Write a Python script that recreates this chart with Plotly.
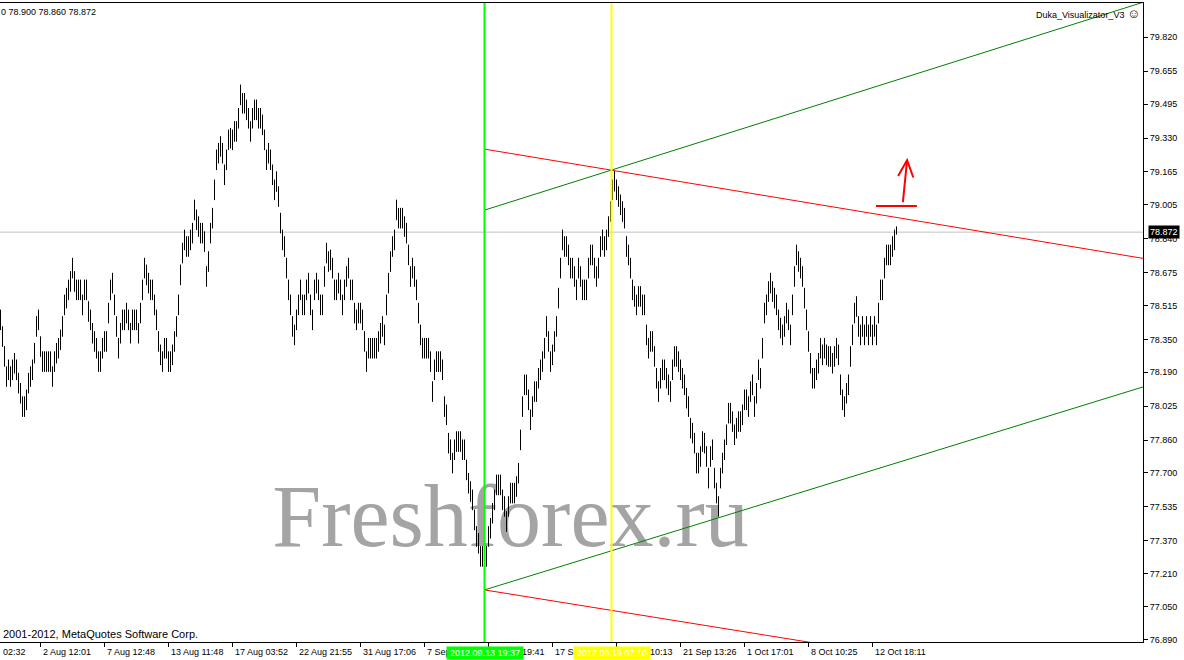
import plotly.graph_objects as go

FONT = "Liberation Sans"

# ---- range bars (10 pip): lows and highs per bar ----
bar_low = [
    78.395, 78.314, 78.217, 78.119, 78.152, 78.119, 78.152, 78.184, 78.152, 78.087,
    78.038, 77.973, 77.973, 78.006, 78.087, 78.119, 78.152, 78.233, 78.363, 78.395,
    78.265, 78.192, 78.192, 78.192, 78.192, 78.192, 78.119, 78.192, 78.233, 78.257,
    78.298, 78.363, 78.468, 78.501, 78.541, 78.582, 78.647, 78.582, 78.541, 78.541,
    78.541, 78.468, 78.541, 78.541, 78.436, 78.395, 78.330, 78.290, 78.257, 78.192,
    78.192, 78.257, 78.290, 78.290, 78.428, 78.541, 78.574, 78.468, 78.363, 78.257,
    78.330, 78.395, 78.395, 78.428, 78.395, 78.330, 78.395, 78.395, 78.395, 78.330,
    78.428, 78.541, 78.647, 78.614, 78.574, 78.541, 78.541, 78.468, 78.395, 78.290,
    78.225, 78.192, 78.257, 78.257, 78.192, 78.192, 78.225, 78.290, 78.363, 78.468,
    78.614, 78.720, 78.784, 78.752, 78.752, 78.784, 78.817, 78.930, 78.882, 78.849,
    78.817, 78.817, 78.776, 78.606, 78.679, 78.817, 78.890, 79.028, 79.174, 79.206,
    79.239, 79.206, 79.101, 79.174, 79.271, 79.279, 79.271, 79.312, 79.312, 79.376,
    79.490, 79.449, 79.449, 79.417, 79.376, 79.312, 79.376, 79.417, 79.417, 79.376,
    79.376, 79.344, 79.271, 79.174, 79.206, 79.174, 79.101, 79.028, 79.068, 78.995,
    78.866, 78.784, 78.752, 78.647, 78.541, 78.468, 78.363, 78.322, 78.395, 78.468,
    78.541, 78.468, 78.468, 78.541, 78.574, 78.468, 78.395, 78.541, 78.574, 78.541,
    78.468, 78.468, 78.606, 78.720, 78.679, 78.687, 78.647, 78.541, 78.541, 78.574,
    78.541, 78.468, 78.541, 78.606, 78.647, 78.541, 78.541, 78.428, 78.395, 78.428,
    78.428, 78.395, 78.290, 78.192, 78.257, 78.257, 78.257, 78.257, 78.257, 78.290,
    78.330, 78.363, 78.322, 78.468, 78.574, 78.679, 78.752, 78.784, 78.930, 78.890,
    78.890, 78.890, 78.849, 78.817, 78.711, 78.606, 78.647, 78.606, 78.541, 78.428,
    78.322, 78.257, 78.257, 78.257, 78.257, 78.192, 78.046, 78.152, 78.192, 78.192,
    78.192, 78.152, 77.973, 77.933, 77.795, 77.763, 77.698, 77.763, 77.803, 77.803,
    77.803, 77.763, 77.763, 77.665, 77.600, 77.560, 77.519, 77.422, 77.341, 77.308,
    77.244, 77.244, 77.171, 77.244, 77.341, 77.381, 77.454, 77.519, 77.592, 77.592,
    77.592, 77.519, 77.487, 77.414, 77.487, 77.552, 77.552, 77.552, 77.584, 77.649,
    77.811, 77.973, 78.079, 78.079, 78.006, 77.909, 77.973, 78.046, 78.046, 78.111,
    78.152, 78.192, 78.257, 78.363, 78.290, 78.192, 78.225, 78.290, 78.363, 78.501,
    78.647, 78.784, 78.752, 78.752, 78.711, 78.647, 78.647, 78.606, 78.541, 78.647,
    78.606, 78.541, 78.541, 78.541, 78.647, 78.711, 78.711, 78.647, 78.606, 78.647,
    78.752, 78.784, 78.752, 78.784, 78.849, 78.922, 79.028, 79.070, 79.028, 78.995,
    78.955, 78.922, 78.890, 78.752, 78.711, 78.647, 78.541, 78.509, 78.468, 78.509,
    78.509, 78.468, 78.468, 78.322, 78.257, 78.290, 78.290, 78.217, 78.111, 78.046,
    78.111, 78.152, 78.152, 78.111, 78.079, 78.046, 78.152, 78.217, 78.217, 78.192,
    78.152, 78.111, 78.079, 78.014, 77.973, 77.868, 77.844, 77.795, 77.698, 77.698,
    77.730, 77.803, 77.795, 77.730, 77.625, 77.730, 77.763, 77.625, 77.552, 77.487,
    77.625, 77.698, 77.763, 77.836, 77.941, 77.941, 77.900, 77.836, 77.868, 77.900,
    77.900, 77.933, 78.006, 78.006, 77.973, 78.046, 78.079, 77.973, 78.038, 78.152,
    78.111, 78.257, 78.428, 78.468, 78.533, 78.574, 78.533, 78.501, 78.468, 78.395,
    78.355, 78.322, 78.363, 78.428, 78.395, 78.322, 78.468, 78.606, 78.711, 78.679,
    78.647, 78.606, 78.501, 78.395, 78.290, 78.184, 78.111, 78.111, 78.152, 78.184,
    78.257, 78.225, 78.257, 78.225, 78.217, 78.217, 78.184, 78.217, 78.257, 78.225,
    78.079, 78.006, 77.973, 78.038, 78.079, 78.217, 78.322, 78.428, 78.460, 78.363,
    78.322, 78.363, 78.322, 78.363, 78.322, 78.363, 78.322, 78.363, 78.322, 78.428,
    78.541, 78.541, 78.647, 78.711, 78.711, 78.711, 78.752, 78.784, 78.860,
]
bar_high = [
    78.495, 78.414, 78.317, 78.219, 78.252, 78.219, 78.252, 78.284, 78.252, 78.187,
    78.138, 78.073, 78.073, 78.106, 78.187, 78.219, 78.252, 78.333, 78.463, 78.495,
    78.365, 78.292, 78.292, 78.292, 78.292, 78.292, 78.219, 78.292, 78.333, 78.357,
    78.398, 78.463, 78.568, 78.601, 78.641, 78.682, 78.747, 78.682, 78.641, 78.641,
    78.641, 78.568, 78.641, 78.641, 78.536, 78.495, 78.430, 78.390, 78.357, 78.292,
    78.292, 78.357, 78.390, 78.390, 78.528, 78.641, 78.674, 78.568, 78.463, 78.357,
    78.430, 78.495, 78.495, 78.528, 78.495, 78.430, 78.495, 78.495, 78.495, 78.430,
    78.528, 78.641, 78.747, 78.714, 78.674, 78.641, 78.641, 78.568, 78.495, 78.390,
    78.325, 78.292, 78.357, 78.357, 78.292, 78.292, 78.325, 78.390, 78.463, 78.568,
    78.714, 78.820, 78.884, 78.852, 78.852, 78.884, 78.917, 79.030, 78.982, 78.949,
    78.917, 78.917, 78.876, 78.706, 78.779, 78.917, 78.990, 79.128, 79.274, 79.306,
    79.339, 79.306, 79.201, 79.274, 79.371, 79.379, 79.371, 79.412, 79.412, 79.476,
    79.590, 79.549, 79.549, 79.517, 79.476, 79.412, 79.476, 79.517, 79.517, 79.476,
    79.476, 79.444, 79.371, 79.274, 79.306, 79.274, 79.201, 79.128, 79.168, 79.095,
    78.966, 78.884, 78.852, 78.747, 78.641, 78.568, 78.463, 78.422, 78.495, 78.568,
    78.641, 78.568, 78.568, 78.641, 78.674, 78.568, 78.495, 78.641, 78.674, 78.641,
    78.568, 78.568, 78.706, 78.820, 78.779, 78.787, 78.747, 78.641, 78.641, 78.674,
    78.641, 78.568, 78.641, 78.706, 78.747, 78.641, 78.641, 78.528, 78.495, 78.528,
    78.528, 78.495, 78.390, 78.292, 78.357, 78.357, 78.357, 78.357, 78.357, 78.390,
    78.430, 78.463, 78.422, 78.568, 78.674, 78.779, 78.852, 78.884, 79.030, 78.990,
    78.990, 78.990, 78.949, 78.917, 78.811, 78.706, 78.747, 78.706, 78.641, 78.528,
    78.422, 78.357, 78.357, 78.357, 78.357, 78.292, 78.146, 78.252, 78.292, 78.292,
    78.292, 78.252, 78.073, 78.033, 77.895, 77.863, 77.798, 77.863, 77.903, 77.903,
    77.903, 77.863, 77.863, 77.765, 77.700, 77.660, 77.619, 77.522, 77.441, 77.408,
    77.344, 77.344, 77.271, 77.344, 77.441, 77.481, 77.554, 77.619, 77.692, 77.692,
    77.692, 77.619, 77.587, 77.514, 77.587, 77.652, 77.652, 77.652, 77.684, 77.749,
    77.911, 78.073, 78.179, 78.179, 78.106, 78.009, 78.073, 78.146, 78.146, 78.211,
    78.252, 78.292, 78.357, 78.463, 78.390, 78.292, 78.325, 78.390, 78.463, 78.601,
    78.747, 78.884, 78.852, 78.852, 78.811, 78.747, 78.747, 78.706, 78.641, 78.747,
    78.706, 78.641, 78.641, 78.641, 78.747, 78.811, 78.811, 78.747, 78.706, 78.747,
    78.852, 78.884, 78.852, 78.884, 78.949, 79.022, 79.128, 79.170, 79.128, 79.095,
    79.055, 79.022, 78.990, 78.852, 78.811, 78.747, 78.641, 78.609, 78.568, 78.609,
    78.609, 78.568, 78.568, 78.422, 78.357, 78.390, 78.390, 78.317, 78.211, 78.146,
    78.211, 78.252, 78.252, 78.211, 78.179, 78.146, 78.252, 78.317, 78.317, 78.292,
    78.252, 78.211, 78.179, 78.114, 78.073, 77.968, 77.944, 77.895, 77.798, 77.798,
    77.830, 77.903, 77.895, 77.830, 77.725, 77.830, 77.863, 77.725, 77.652, 77.587,
    77.725, 77.798, 77.863, 77.936, 78.041, 78.041, 78.000, 77.936, 77.968, 78.000,
    78.000, 78.033, 78.106, 78.106, 78.073, 78.146, 78.179, 78.073, 78.138, 78.252,
    78.211, 78.357, 78.528, 78.568, 78.633, 78.674, 78.633, 78.601, 78.568, 78.495,
    78.455, 78.422, 78.463, 78.528, 78.495, 78.422, 78.568, 78.706, 78.811, 78.779,
    78.747, 78.706, 78.601, 78.495, 78.390, 78.284, 78.211, 78.211, 78.252, 78.284,
    78.357, 78.325, 78.357, 78.325, 78.317, 78.317, 78.284, 78.317, 78.357, 78.325,
    78.179, 78.106, 78.073, 78.138, 78.179, 78.317, 78.422, 78.528, 78.560, 78.463,
    78.422, 78.463, 78.422, 78.463, 78.422, 78.463, 78.422, 78.463, 78.422, 78.528,
    78.641, 78.641, 78.747, 78.811, 78.811, 78.811, 78.852, 78.884, 78.900,
]

# time axis (bar index of each labelled tick)
time_tick_bars = [20, 52, 84, 116, 148, 180, 212, 244, 276, 308, 340, 372, 404, 436]
time_tick_labels = ["2 Aug 12:01", "7 Aug 12:48", "13 Aug 11:48", "17 Aug 03:52",
                    "22 Aug 21:55", "31 Aug 17:06", "7 Sep 14:20", "13 Sep 19:41",
                    "17 Sep 03:40", "19 Sep 10:13", "21 Sep 13:26", "1 Oct 17:01",
                    "8 Oct 10:25", "12 Oct 18:11"]
first_partial_label = "02:32"

price_ticks = [79.820, 79.655, 79.495, 79.330, 79.165, 79.005, 78.840, 78.675, 78.515,
               78.350, 78.190, 78.025, 77.860, 77.700, 77.535, 77.370, 77.210, 77.050, 76.890]
price_range = [76.8775, 79.987]

last_bid = 78.872
ohlc_info = "0 78.900 78.860 78.872"
indicator_name = "Duka_Visualizator_V3 <span style='font-size:13px'>\u263a</span>"
copyright_text = "2001-2012, MetaQuotes Software Corp."
watermark = "Freshforex.ru"
watermark_pos = (255, 77.45)

# vertical time markers: (bar position, label, colour)
vlines = [(242, "2012.09.13 19:37", "#00ff00"), (305.5, "2012.09.19 07:10", "#ffff00")]

# trend channels: (start bar, start price, end bar, end price, colour)
channels = [
    (242, 79.276, 600, 78.698, "#ff0000"),
    (242, 77.131, 420, 76.852, "#ff0000"),
    (242, 78.979, 590, 80.048, "#008000"),
    (242, 77.131, 600, 78.205, "#008000"),
]

# hand-drawn red arrow (polyline strokes in bar/price units)
arrow_strokes = [
    [(437.7, 78.999), (458.2, 78.999)],
    [(451.2, 79.018), (453.3, 79.222)],
    [(448.8, 79.145), (453.3, 79.222), (456.4, 79.138)],
]

n_bars = len(bar_low)
assert n_bars == len(bar_high)

fig = go.Figure()

# watermark underneath the bars
fig.add_trace(go.Scatter(
    x=[watermark_pos[0]], y=[watermark_pos[1]], mode="text", text=[watermark],
    textposition="middle center",
    textfont=dict(family="Liberation Serif", size=88, color="#a4a4a4"),
    hoverinfo="skip", showlegend=False))

bx, by = [], []
for i in range(n_bars):
    bx += [i, i, None]
    by += [bar_low[i], bar_high[i], None]
fig.add_trace(go.Scatter(x=bx, y=by, mode="lines",
                         line=dict(color="black", width=1),
                         hoverinfo="skip", showlegend=False))

shapes = []
# bid line
shapes.append(dict(type="line", xref="paper", x0=0, x1=1, yref="y", y0=last_bid, y1=last_bid,
                   line=dict(color="#c0c0c0", width=1), layer="below"))
for x0, y0, x1, y1, col in channels:
    shapes.append(dict(type="line", xref="x", yref="y", x0=x0, y0=y0, x1=x1, y1=y1,
                       line=dict(color=col, width=1)))
for xv, _, col in vlines:
    shapes.append(dict(type="line", xref="x", yref="paper", x0=xv, x1=xv, y0=0, y1=1,
                       line=dict(color=col, width=2)))
for stroke in arrow_strokes:
    path = "M " + " L ".join(f"{px},{py}" for px, py in stroke)
    shapes.append(dict(type="path", xref="x", yref="y", path=path,
                       line=dict(color="#ff0000", width=2)))

small = dict(family=FONT, size=9, color="black")
ann = []
for xv, lab in zip(time_tick_bars, time_tick_labels):
    ann.append(dict(x=xv, xref="x", y=0, yref="paper", text=lab, showarrow=False,
                    xanchor="left", yanchor="top", yshift=-3, font=small))
ann.append(dict(x=0, xref="paper", y=0, yref="paper", text=first_partial_label,
                showarrow=False, xanchor="left", yanchor="top", xshift=1, yshift=-3, font=small))
for xv, lab, col in vlines:
    ann.append(dict(x=xv, xref="x", y=0, yref="paper", text=lab, showarrow=False,
                    xanchor="center", yanchor="top", yshift=-4, bgcolor=col, borderpad=1,
                    width=74, font=dict(family=FONT, size=9, color="white")))
ann.append(dict(x=1, xref="paper", y=last_bid, yref="y", text=f"{last_bid:.3f}", showarrow=False,
                xanchor="left", yanchor="middle", xshift=5, bgcolor="black", borderpad=1,
                font=dict(family=FONT, size=9, color="white")))
ann.append(dict(x=0, xref="paper", y=1, yref="paper", text=ohlc_info, showarrow=False,
                xanchor="left", yanchor="top", xshift=-1, yshift=-2, font=small))
ann.append(dict(x=1, xref="paper", y=1, yref="paper", text=indicator_name, showarrow=False,
                xanchor="right", yanchor="top", xshift=-1, yshift=-1, font=small))
ann.append(dict(x=0, xref="paper", y=0, yref="paper", text=copyright_text, showarrow=False,
                xanchor="left", yanchor="bottom", xshift=1, yshift=0,
                font=dict(family=FONT, size=11, color="black")))

fig.update_layout(
    width=1184, height=660,
    margin=dict(l=0, r=41, t=3, b=18),
    paper_bgcolor="white", plot_bgcolor="white",
    showlegend=False,
    shapes=shapes, annotations=ann,
    xaxis=dict(range=[-0.25, 571.25], showgrid=False, zeroline=False,
               showline=True, linecolor="black", linewidth=1, mirror=True,
               ticks="outside", ticklen=4, tickcolor="black",
               tickvals=time_tick_bars, showticklabels=False, fixedrange=True),
    yaxis=dict(range=price_range, side="right", showgrid=False, zeroline=False,
               showline=True, linecolor="black", linewidth=1,
               ticks="outside", ticklen=4, tickcolor="black",
               tickvals=price_ticks, ticktext=[f"{v:.3f}" for v in price_ticks],
               tickfont=small, fixedrange=True),
)

fig.write_html("out.html", config={"displayModeBar": False},
               post_script="document.body.style.margin='0';document.body.style.overflow='hidden';")
